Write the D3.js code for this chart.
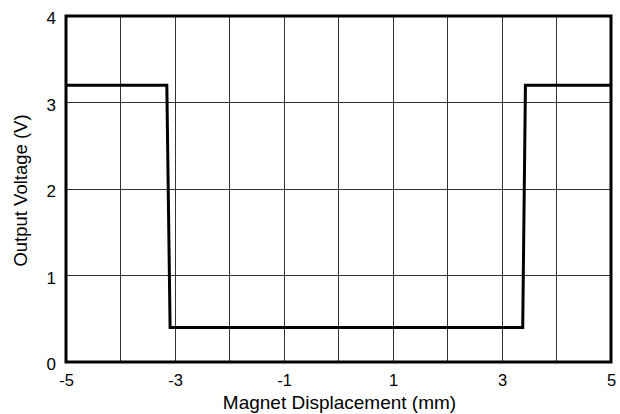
<!DOCTYPE html>
<html><head><meta charset="utf-8">
<script src="https://cdn.jsdelivr.net/npm/d3@7"></script>
<style>body{margin:0;background:#fff;}svg{display:block;font-family:"Liberation Sans",Arial,sans-serif;}</style>
</head><body><svg id="c" width="620" height="414"></svg>
<script>
const xs = [-5, -3.15, -3.09, 3.38, 3.43, 5];
const ys = [3.2, 3.2, 0.4, 0.4, 3.2, 3.2];
const xTickLabels = [-5, -3, -1, 1, 3, 5];
const xGrid = [-4, -3, -2, -1, 0, 1, 2, 3, 4];
const yTicks = [0, 1, 2, 3, 4];

const svg = d3.select("#c");
const m = {l: 66, r: 611, t: 16, b: 362};
const x = d3.scaleLinear().domain([-5, 5]).range([m.l, m.r]);
const y = d3.scaleLinear().domain([0, 4]).range([m.b, m.t]);
const ff = '"Liberation Sans",Arial,sans-serif';

// grid
svg.append("g").selectAll("line").data(xGrid).join("line")
  .attr("x1", d => x(d)).attr("x2", d => x(d)).attr("y1", m.t).attr("y2", m.b)
  .attr("stroke", "#333").attr("stroke-width", 1).attr("shape-rendering", "crispEdges");
svg.append("g").selectAll("line").data(yTicks.slice(1, -1)).join("line")
  .attr("y1", d => y(d)).attr("y2", d => y(d)).attr("x1", m.l).attr("x2", m.r)
  .attr("stroke", "#333").attr("stroke-width", 1).attr("shape-rendering", "crispEdges");

// data
const pts = xs.map((v, i) => [v, ys[i]]);
svg.append("path").datum(pts)
  .attr("d", d3.line().x(d => x(d[0])).y(d => y(d[1])))
  .attr("fill", "none").attr("stroke", "#000").attr("stroke-width", 3).attr("stroke-linejoin", "miter");

// frame
svg.append("rect").attr("x", m.l).attr("y", m.t).attr("width", m.r - m.l).attr("height", m.b - m.t)
  .attr("fill", "none").attr("stroke", "#000").attr("stroke-width", 3);

// axes labels
const fmt = d => String(d);
const xa = svg.append("g").attr("transform", `translate(0,${m.b})`)
  .call(d3.axisBottom(x).tickValues(xTickLabels).tickSize(0).tickPadding(12).tickFormat(fmt));
xa.select(".domain").remove();
xa.selectAll("text").attr("font-size", 16.5).attr("fill", "#000").attr("font-family", ff);

const ya = svg.append("g").attr("transform", `translate(${m.l},0)`)
  .call(d3.axisLeft(y).tickValues(yTicks).tickSize(0).tickPadding(10).tickFormat(fmt));
ya.select(".domain").remove();
ya.selectAll("text").attr("font-size", 17).attr("fill", "#000").attr("font-family", ff).attr("dy", "0.45em");

svg.append("text").attr("x", (m.l + m.r) / 2 + 1).attr("y", 409).attr("text-anchor", "middle")
  .attr("font-size", 19).attr("font-family", ff).text("Magnet Displacement (mm)");
svg.append("text").attr("transform", `translate(27,190.5) rotate(-90)`)
  .attr("text-anchor", "middle").attr("font-size", 18.5).attr("font-family", ff).text("Output Voltage (V)");
</script></body></html>
